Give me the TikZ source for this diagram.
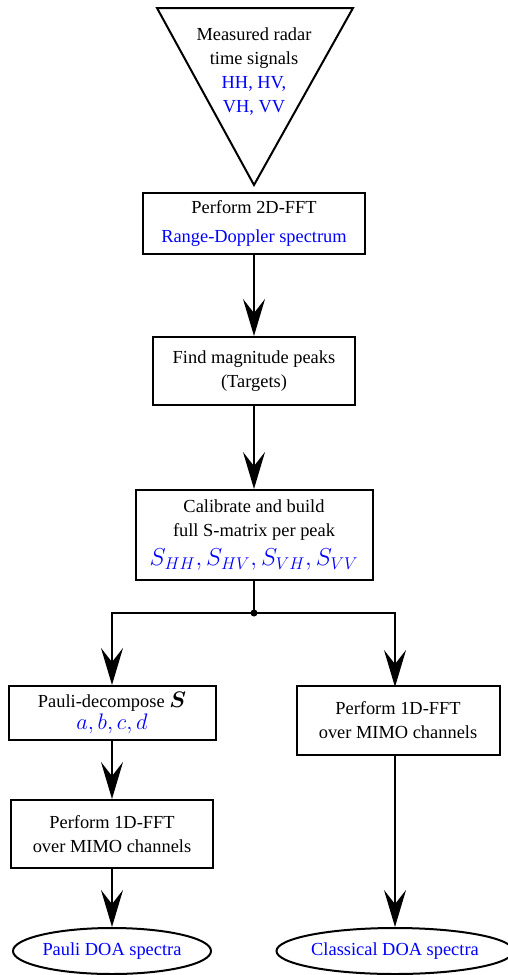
\documentclass[tikz,border=0pt]{standalone}
\usepackage{graphicx}
\usepackage{fontspec}
\setmainfont{Liberation Serif}
\usepackage{bm}
\usetikzlibrary{arrows.meta,shapes.geometric}
\newcommand{\mathbig}[1]{\scalebox{1.3}{#1}}
\newcommand{\mathbigger}[1]{\scalebox{1.42}{#1}}
\begin{document}
\begin{tikzpicture}[x=1pt,y=-1pt,
  every node/.style={font=\fontsize{18.4}{24}\selectfont},
  box/.style={draw,line width=2pt,rectangle,align=center,inner sep=0pt},
  oval/.style={draw,line width=2pt,ellipse,inner sep=0pt,text=blue},
  arr/.style={line width=2pt,-{Stealth[length=37pt,width=22pt,inset=14pt]}},
  con/.style={line width=2pt}]
\useasboundingbox (0,0) rectangle (507,975);
% triangle
\draw[line width=2pt,line join=miter] (157,8) -- (353,8) -- (254,185) -- cycle;
\node[align=center] (tri) at (254,72) {Measured radar\\time signals\\\textcolor{blue}{HH, HV,}\\\textcolor{blue}{VH, VV}};
% boxes
\node[box,minimum width=222pt,minimum height=61pt] (b1) at (254,223.5)
  {Perform 2D-FFT\\[5pt]\textcolor{blue}{Range-Doppler spectrum}};
\node[box,minimum width=202pt,minimum height=68pt] (b2) at (254,371)
  {Find magnitude peaks\\(Targets)};
\node[box,minimum width=237pt,minimum height=90pt] (b3) at (254,535)
  {Calibrate and build\\full S-matrix per peak\\[5pt]\textcolor{blue}{\mathbigger{$S_{HH},S_{HV},S_{VH},S_{VV}$}}};
\node[box,minimum width=207pt,minimum height=54pt] (bA) at (112,713)
  {Pauli-decompose \mathbig{$\bm{S}$}\\[-2pt]\textcolor{blue}{\mathbig{$a,b,c,d$}}};
\node[box,minimum width=202pt,minimum height=68pt] (bB) at (112,834)
  {Perform 1D-FFT\\over MIMO channels};
\node[box,minimum width=203pt,minimum height=69pt] (bC) at (398,720.5)
  {Perform 1D-FFT\\over MIMO channels};
\node[oval,minimum width=198pt,minimum height=46pt] (eL) at (112,951) {Pauli DOA spectra};
\node[oval,minimum width=225pt,minimum height=46pt] (eR) at (395,951) {Classical DOA spectra};
% connectors
\draw[arr] (b1.south) -- (b2.north);
\draw[arr] (b2.south) -- (b3.north);
\coordinate (j) at (254,613);
\draw[con] (b3.south) -- (j);
\fill (j) circle (3.5pt);
\draw[arr] (j) -| (bA.north);
\draw[arr] (j) -| (395,687) coordinate (cTop);
\draw[arr] (bA.south) -- (bB.north);
\draw[arr] (bB.south) -- (eL.north);
\draw[arr] (395,755) -- (eR.north);
\end{tikzpicture}
\end{document}
